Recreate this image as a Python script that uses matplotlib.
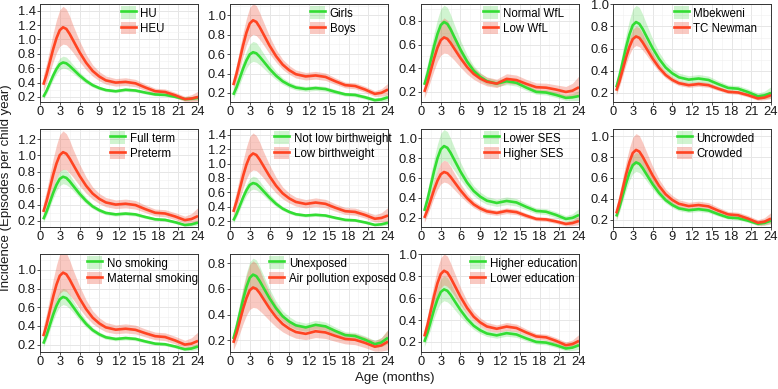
import matplotlib
matplotlib.use("Agg")
import matplotlib.pyplot as plt
from matplotlib.lines import Line2D
from matplotlib.patches import Patch
from matplotlib.ticker import MultipleLocator

plt.rcParams['font.family'] = ['Liberation Sans', 'DejaVu Sans']

# ---------------- data ----------------
age = [0.5, 1, 1.5, 2, 2.5, 3, 3.5, 4, 4.5, 5, 6, 7, 8, 9, 10, 11.5, 13,
       14.5, 16, 17.5, 19, 20.5, 22, 23, 24]

# relative half-widths of the confidence bands
ci_narrow = [.22, .18, .15, .14, .13, .13, .13, .13, .12, .11, .10, .09, .08,
             .08, .08, .08, .08, .08, .08, .08, .09, .10, .12, .15, .20]
ci_medium = [.28, .24, .21, .19, .18, .18, .18, .18, .17, .16, .14, .12, .11,
             .11, .11, .11, .11, .11, .11, .11, .12, .14, .17, .21, .28]
ci_wide = [.35, .30, .27, .26, .25, .25, .25, .24, .23, .21, .19, .17, .15,
           .14, .14, .14, .14, .14, .14, .15, .16, .18, .23, .30, .40]
ci_xwide = [.45, .40, .37, .35, .34, .34, .34, .33, .32, .30, .27, .25, .23,
            .22, .22, .22, .22, .22, .22, .22, .23, .26, .30, .38, .50]

hu = [.200, .286, .392, .498, .589, .656, .680, .668, .632, .588, .500, .424, .364,
      .324, .296, .280, .300, .290, .261, .235, .229, .203, .170, .175, .190]
heu = [.370, .514, .690, .866, 1.018, 1.130, 1.170, 1.147, 1.078, .993, .824, .677, .562,
       .485, .431, .400, .410, .390, .332, .280, .269, .225, .170, .178, .200]
girls = [.180, .259, .356, .453, .536, .598, .620, .609, .574, .533, .449, .377, .320,
         .282, .255, .240, .250, .240, .211, .185, .179, .155, .125, .133, .155]
boys = [.280, .401, .548, .695, .823, .917, .950, .933, .880, .817, .689, .579, .492,
        .434, .393, .370, .380, .365, .320, .280, .271, .235, .190, .201, .235]
normal_wfl = [.260, .355, .472, .589, .689, .764, .790, .774, .728, .670, .556, .457, .379,
              .327, .291, .270, .290, .277, .236, .200, .195, .175, .150, .154, .165]
low_wfl = [.200, .283, .384, .485, .573, .637, .660, .648, .613, .570, .485, .410, .352,
           .313, .286, .270, .310, .300, .268, .240, .236, .220, .200, .210, .240]
mbekweni = [.250, .356, .486, .616, .728, .811, .840, .824, .778, .720, .606, .507, .429,
            .377, .341, .320, .330, .317, .279, .245, .238, .208, .170, .178, .200]
tc_newman = [.220, .308, .416, .524, .617, .686, .710, .697, .657, .609, .512, .428, .362,
             .318, .288, .270, .280, .270, .238, .210, .204, .180, .150, .158, .180]
full_term = [.220, .314, .428, .542, .641, .714, .740, .726, .685, .634, .533, .446, .377,
             .331, .298, .280, .290, .280, .248, .220, .213, .185, .150, .158, .180]
preterm = [.310, .441, .602, .763, .901, 1.004, 1.040, 1.021, .963, .893, .752, .630, .534,
           .470, .426, .400, .410, .394, .344, .300, .291, .255, .210, .223, .260]
not_low_bw = [.210, .304, .418, .532, .631, .704, .730, .717, .676, .627, .528, .442, .375,
              .330, .298, .280, .290, .280, .248, .220, .213, .185, .150, .158, .180]
low_bw = [.330, .476, .654, .832, .986, 1.100, 1.140, 1.119, 1.056, .979, .825, .692, .587,
          .517, .468, .440, .460, .442, .388, .340, .330, .288, .235, .246, .280]
lower_ses = [.270, .387, .530, .673, .797, .888, .920, .903, .852, .789, .664, .555, .470,
             .413, .373, .350, .370, .355, .310, .270, .262, .230, .190, .200, .230]
higher_ses = [.200, .283, .384, .485, .573, .637, .660, .648, .611, .566, .476, .398, .336,
              .295, .266, .250, .270, .258, .222, .190, .185, .165, .140, .148, .170]
uncrowded = [.230, .324, .438, .552, .651, .724, .750, .736, .695, .644, .543, .456, .387,
             .341, .308, .290, .300, .288, .252, .220, .214, .190, .160, .168, .190]
crowded = [.260, .370, .504, .638, .754, .840, .870, .854, .805, .746, .627, .524, .443,
           .389, .352, .330, .340, .327, .286, .250, .242, .210, .170, .180, .210]
no_smoking = [.210, .300, .410, .520, .615, .685, .710, .697, .656, .607, .508, .422, .355,
              .310, .278, .260, .270, .261, .234, .210, .204, .180, .150, .158, .180]
maternal_smoking = [.290, .412, .562, .712, .841, .936, .970, .952, .897, .830, .696, .580, .488,
                    .427, .384, .360, .370, .358, .322, .290, .281, .245, .200, .210, .240]
unexposed = [.210, .300, .410, .520, .615, .685, .710, .698, .661, .616, .526, .448, .386,
             .345, .316, .300, .320, .308, .272, .240, .233, .205, .170, .183, .220]
air_pollution = [.180, .257, .352, .447, .528, .589, .610, .599, .567, .527, .448, .380, .326,
                 .290, .264, .250, .270, .261, .234, .210, .204, .180, .150, .160, .190]
higher_edu = [.200, .286, .392, .498, .589, .656, .680, .667, .630, .583, .491, .411, .348,
              .306, .277, .260, .280, .268, .232, .200, .194, .170, .140, .148, .170]
lower_edu = [.250, .358, .490, .622, .736, .820, .850, .834, .786, .728, .612, .511, .431,
             .378, .341, .320, .340, .327, .286, .250, .242, .210, .170, .180, .210]

panels = [
    (("HU", "HEU"), (hu, heu), (ci_narrow, ci_wide), (0.130, 1.494), 1.4),
    (("Girls", "Boys"), (girls, boys), (ci_medium, ci_medium), (0.106, 1.118), 1.0),
    (("Normal WfL", "Low WfL"), (normal_wfl, low_wfl), (ci_medium, ci_wide), (0.115, 0.942), 0.8),
    (("Mbekweni", "TC Newman"), (mbekweni, tc_newman), (ci_medium, ci_narrow), (0.118, 1.003), 1.0),
    (("Full term", "Preterm"), (full_term, preterm), (ci_narrow, ci_wide), (0.126, 1.323), 1.2),
    (("Not low birthweight", "Low birthweight"), (not_low_bw, low_bw), (ci_narrow, ci_wide), (0.121, 1.479), 1.4),
    (("Lower SES", "Higher SES"), (lower_ses, higher_ses), (ci_medium, ci_medium), (0.109, 1.091), 1.0),
    (("Uncrowded", "Crowded"), (uncrowded, crowded), (ci_narrow, ci_medium), (0.129, 1.071), 1.0),
    (("No smoking", "Maternal smoking"), (no_smoking, maternal_smoking), (ci_narrow, ci_wide), (0.121, 1.169), 1.0),
    (("Unexposed", "Air pollution exposed"), (unexposed, air_pollution), (ci_medium, ci_xwide), (0.109, 0.870), 0.8),
    (("Higher education", "Lower education"), (higher_edu, lower_edu), (ci_medium, ci_medium), (0.108, 1.003), 1.0),
]

x_ticks = [0, 3, 6, 9, 12, 15, 18, 21, 24]

# ---------------- style ----------------
W, H = 778, 389
line_cols = ['#33dd33', '#ff4422']
fill_cols = ['#44d444', '#f06650']
fill_alpha = [0.25, 0.35]
col_left = [40, 230, 421, 613]
row_top = [4, 129, 254]
ax_w, ax_h = 158, 98

fig = plt.figure(figsize=(W / 100, H / 100), dpi=100)

for i, (labels, series, cis, ylim, ytop) in enumerate(panels):
    r, c = divmod(i, 4)
    ax = fig.add_axes([col_left[c] / W, 1 - (row_top[r] + ax_h) / H, ax_w / W, ax_h / H])
    handles = []
    for k in range(2):
        est = series[k]
        ci = cis[k]
        lo = [v / (1 + w) for v, w in zip(est, ci)]
        hi = [v * (1 + w) for v, w in zip(est, ci)]
        ax.fill_between(age, lo, hi, color=fill_cols[k], alpha=fill_alpha[k], lw=0, zorder=2)
    for k in range(2):
        ax.plot(age, series[k], color=line_cols[k], lw=1.9, zorder=3, solid_capstyle='butt')
        handles.append((Patch(facecolor=fill_cols[k], alpha=fill_alpha[k], lw=0),
                        Line2D([], [], color=line_cols[k], lw=1.9)))
    ax.set_xlim(0, 24)
    ax.set_ylim(*ylim)
    ax.set_xticks(x_ticks)
    ax.xaxis.set_minor_locator(MultipleLocator(1.5))
    yt = [round(0.2 * j, 1) for j in range(1, int(round(ytop / 0.2)) + 1)]
    ax.set_yticks(yt)
    ax.set_yticklabels([f"{v:.1f}" for v in yt])
    ax.yaxis.set_minor_locator(MultipleLocator(0.1))
    ax.grid(True, which='major', color='#e6e6e6', lw=0.7, zorder=0)
    ax.grid(True, which='minor', color='#f0f0f0', lw=0.4, zorder=0)
    ax.set_axisbelow(True)
    ax.tick_params(which='major', length=2, width=0.6, color='#333333',
                   labelsize=9.3, labelcolor='#1a1a1a', pad=1)
    ax.tick_params(which='minor', length=0)
    for sp in ax.spines.values():
        sp.set_color('#333333')
        sp.set_linewidth(0.7)
    ax.legend(handles, labels, loc='center', bbox_to_anchor=(0.65, 0.83),
              frameon=False, fontsize=8.3, handlelength=1.3, handleheight=1.3,
              handletextpad=0.4, labelspacing=0.2, borderpad=0, borderaxespad=0)

fig.text(6.5 / W, 1 - 188 / H, "Incidence (Episodes per child year)", rotation=90,
         ha='center', va='center', fontsize=9.5, color='#1a1a1a')
fig.text(395 / W, 1 - 378 / H, "Age (months)", ha='center', va='center',
         fontsize=9.5, color='#1a1a1a')

fig.savefig("out.png", dpi=100)
